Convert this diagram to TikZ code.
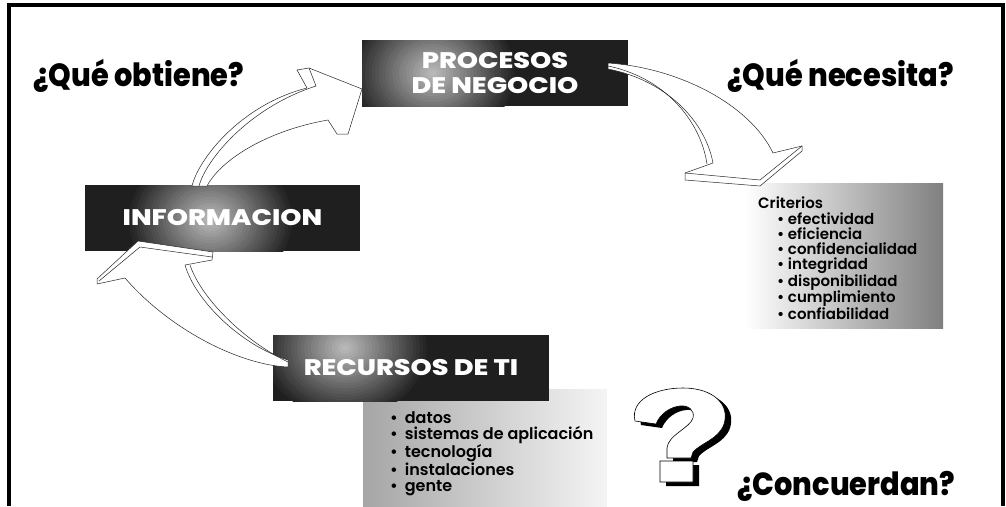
\documentclass[tikz,border=0pt]{standalone}
\usepackage{fontspec}
\setmainfont{Poppins}
\newfontfamily\boxfont[FakeStretch=1.2]{Poppins ExtraBold}
\newfontfamily\askfont[FakeStretch=0.9]{Poppins ExtraBold}
\newfontfamily\listfont{Poppins SemiBold}
\begin{document}
\begin{tikzpicture}[x=1pt, y=-1pt,
  darkbox/.style={fill=black!88, text=white, inner sep=0pt, align=center,
    font=\boxfont\fontsize{22.5}{25}\selectfont,
    path picture={\foreach \k in {1,...,24}
      \fill[black!\the\numexpr 88-25*\k/10\relax]
        ([shift={(#1)}]path picture bounding box.center) ellipse [x radius={3.4*(25-\k)}, y radius={2.9*(25-\k)}];}},
  critbox/.style={left color=white, right color=black!50, inner sep=0pt},
  tibox/.style={left color=black!35, right color=black!4, inner sep=0pt},
  ribbon/.style={fill=white, draw=black!85, line width=0.5pt},
  ribbonedge/.style={draw=black!85, line width=0.5pt},
  ask/.style={anchor=base west, inner sep=0pt, font=\askfont\fontsize{32}{36}\selectfont},
  listtext/.style={anchor=north west, inner sep=0pt, align=left},
  qmarkshape/.style={insert path={(635,421) .. controls (630,400) and (655,388) .. (683,388)
    .. controls (714,388) and (730,405) .. (724,424) .. controls (719,439) and (701,443) .. (693,452)
    -- (691,458) -- (667,458) -- (667,448) .. controls (668,435) and (690,428) .. (693,418)
    .. controls (695,410) and (688,405) .. (680,406) .. controls (670,407) and (660,414) .. (656,424)
    -- cycle (660,461) rectangle (693,482)}}]
  \useasboundingbox (0,0) rectangle (1006,506);
  % frame
  \draw[line width=4.5pt] (9,506) -- (9,5) -- (1003,5) -- (1003,506);
  % shaded lists
  \node[critbox, anchor=north west, minimum width=198pt, minimum height=145pt] (crit) at (745,183) {};
  \node[tibox, anchor=north west, minimum width=244pt, minimum height=118pt] (tilist) at (363,389) {};
  % dark boxes
  \node[darkbox={-62,0}, minimum width=266pt, minimum height=66pt] (proc) at (495,73) {PROCESOS\\DE NEGOCIO};
  \node[darkbox={-12,2}, minimum width=275pt, minimum height=66pt] (info) at (222.5,218) {INFORMACION};
  \node[darkbox={-66,-20}, minimum width=276pt, minimum height=66pt] (ti) at (411,368) {RECURSOS DE TI};
  % arrow informacion -> procesos
  \draw[ribbon] (192,186) .. controls (198,160) and (240,105) .. (307,88) -- (297,70) -- (309,68)
    -- (362,89) -- (348,134) -- (337,134) -- (328,120) .. controls (270,130) and (222,158) .. (207,186) -- cycle;
  \draw[ribbonedge] (199,186) .. controls (206,160) and (248,108) .. (316,86) -- (309,68);
  % arrow procesos -> criterios
  \draw[ribbon] (608,63) .. controls (680,68) and (750,105) .. (773,153) -- (802,146) -- (802,151)
    -- (760,186) -- (685,180) -- (685,173) -- (713,163) .. controls (705,120) and (665,80) .. (608,69) -- cycle;
  \draw[ribbonedge] (608,66) .. controls (662,77) and (700,118) .. (707,164);
  \draw[ribbonedge] (685,173) -- (760,180) -- (802,146);
  % arrow recursos -> informacion
  \draw[ribbon] (288,367) .. controls (240,365) and (170,330) .. (125,278) -- (97,284) -- (97,279)
    -- (138,241) -- (213,252) -- (212,260) -- (185,265) .. controls (195,300) and (240,345) .. (288,360) -- cycle;
  \draw[ribbonedge] (190,265) .. controls (201,298) and (244,341) .. (288,362);
  \draw[ribbonedge] (99,281) -- (140,247) -- (212,257);
  % questions
  \node[ask] (obtiene) at (33,86) {¿Qué obtiene?};
  \node[ask] (necesita) at (727,86) {¿Qué necesita?};
  \node[ask] (concuerdan) at (737,495) {¿Concuerdan?};
  % lists
  \node[listtext, font=\listfont\fontsize{15}{15.1}\selectfont] (crittext) at (758,197)
    {Criterios\\\hspace*{19pt}\textbullet\ efectividad\\\hspace*{19pt}\textbullet\ eficiencia\\
     \hspace*{19pt}\textbullet\ confidencialidad\\\hspace*{19pt}\textbullet\ integridad\\
     \hspace*{19pt}\textbullet\ disponibilidad\\\hspace*{19pt}\textbullet\ cumplimiento\\
     \hspace*{19pt}\textbullet\ confiabilidad};
  \node[listtext, font=\listfont\fontsize{16}{16.3}\selectfont] (titext) at (390,411)
    {\textbullet\hspace{7pt}datos\\\textbullet\hspace{7pt}sistemas de aplicación\\\textbullet\hspace{7pt}tecnología\\
     \textbullet\hspace{7pt}instalaciones\\\textbullet\hspace{7pt}gente};
  % question mark
  \fill[black, shift={(6,4)}, qmarkshape];
  \draw[fill=white, line width=0.6pt, qmarkshape];
\end{tikzpicture}
\end{document}
